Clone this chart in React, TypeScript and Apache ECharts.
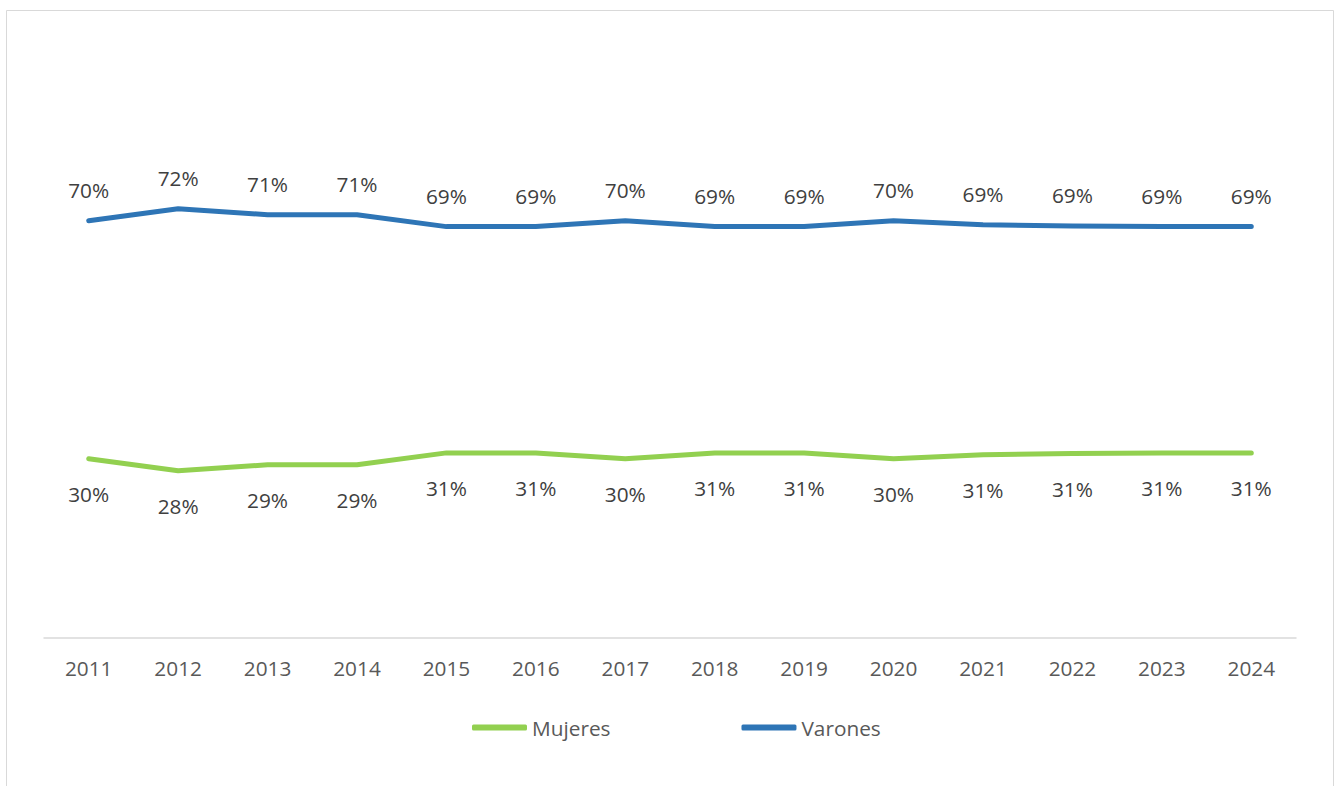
import React, { useEffect, useRef } from "react";
import * as echarts from "echarts";

const years = ["2011", "2012", "2013", "2014", "2015", "2016", "2017", "2018", "2019", "2020", "2021", "2022", "2023", "2024"];
const mujeres = [30, 28, 29, 29, 31, 31, 30, 31, 31, 30, 30.7, 30.9, 31, 31];
const varones = [70, 72, 71, 71, 69, 69, 70, 69, 69, 70, 69.3, 69.1, 69, 69];

const FONT = "'Open Sans', 'Noto Sans', sans-serif";
const FS = 20.8;

export default function App() {
  const ref = useRef<HTMLDivElement>(null);
  useEffect(() => {
    if (!ref.current) return;
    const chart = echarts.init(ref.current, null, { renderer: "svg" });
    const fmt = (p: any) => Math.round(p.value) + "%";
    chart.setOption({
      animation: false,
      backgroundColor: "#ffffff",
      textStyle: { fontFamily: FONT },
      grid: { left: 44, right: 44, top: 42, bottom: 148.5 },
      xAxis: {
        type: "category",
        data: years,
        boundaryGap: true,
        axisLine: { show: true, lineStyle: { color: "#d9d9d9", width: 1.5 } },
        axisTick: { show: false },
        axisLabel: { color: "#595959", fontSize: FS, fontFamily: FONT, margin: 20, lineHeight: 20 },
      },
      yAxis: {
        type: "value",
        min: 0,
        max: 100,
        show: false,
        splitLine: { show: false },
      },
      legend: {
        data: ["Mujeres", "Varones"],
        left: 472,
        top: 717,
        padding: 0,
        itemWidth: 55,
        itemHeight: 6,
        itemGap: 131,
        icon: "roundRect",
        textStyle: { color: "#595959", fontSize: FS, fontFamily: FONT },
      },
      graphic: [
        {
          type: "rect",
          shape: { x: 6.5, y: 10.5, width: 1327, height: 800 },
          style: { fill: "none", stroke: "#d9d9d9", lineWidth: 1 },
          silent: true,
          z: -1,
        },
      ],
      series: [
        {
          name: "Mujeres",
          type: "line",
          data: mujeres,
          symbol: "circle",
          symbolSize: 0,
          showSymbol: true,
          color: "#92d050",
          lineStyle: { color: "#92d050", width: 5, cap: "round", join: "round" },
          label: {
            show: true,
            position: "bottom",
            distance: 25.5,
            formatter: fmt,
            color: "#404040",
            fontSize: FS,
            lineHeight: 20,
            fontFamily: FONT,
          },
        },
        {
          name: "Varones",
          type: "line",
          data: varones,
          symbol: "circle",
          symbolSize: 0,
          showSymbol: true,
          color: "#2e75b6",
          lineStyle: { color: "#2e75b6", width: 5, cap: "round", join: "round" },
          label: {
            show: true,
            position: "top",
            distance: 21,
            formatter: fmt,
            color: "#404040",
            fontSize: FS,
            lineHeight: 20,
            fontFamily: FONT,
          },
        },
      ],
    });
    return () => chart.dispose();
  }, []);
  return (
    <div
      ref={ref}
      style={{ position: "absolute", left: 0, top: 0, width: 1340, height: 786 }}
    />
  );
}
